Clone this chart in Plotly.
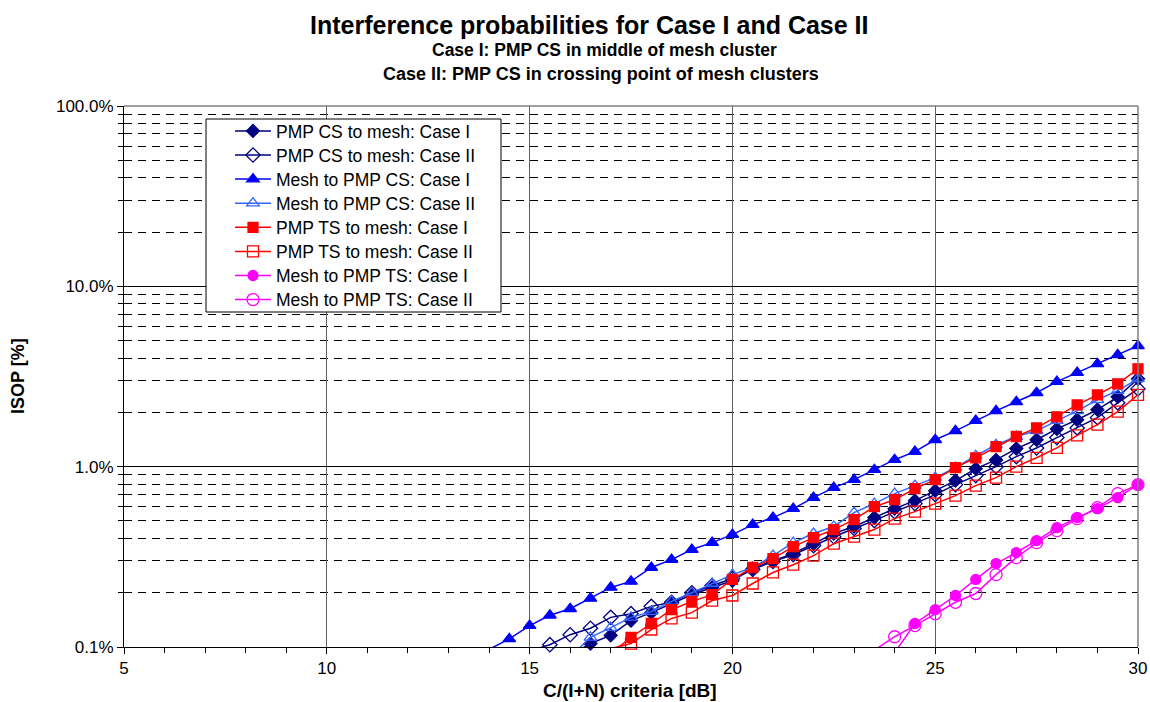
import plotly.graph_objects as go

# C/(I+N) criteria [dB]
X = [14.0, 14.5, 15.0, 15.5, 16.0, 16.5, 17.0, 17.5, 18.0, 18.5, 19.0, 19.5,
     20.0, 20.5, 21.0, 21.5, 22.0, 22.5, 23.0, 23.5, 24.0, 24.5, 25.0, 25.5,
     26.0, 26.5, 27.0, 27.5, 28.0, 28.5, 29.0, 29.5, 30.0]

# ISOP [%] per series (None = no data)
pmp_cs_to_mesh_I = [None, None, None, None, 0.090, 0.1045, 0.116, 0.140, 0.155, 0.174, 0.195, 0.214,
                    0.233, 0.272, 0.301, 0.330, 0.374, 0.426, 0.466, 0.522, 0.585, 0.648, 0.736, 0.837,
                    0.975, 1.09, 1.26, 1.41, 1.62, 1.82, 2.07, 2.44, 3.07]
pmp_cs_to_mesh_II = [None, None, 0.095, 0.103, 0.117, 0.127, 0.146, 0.153, 0.168, 0.177, 0.200, 0.219,
                     0.240, 0.269, 0.298, 0.325, 0.365, 0.409, 0.454, 0.502, 0.563, 0.624, 0.700, 0.795,
                     0.892, 1.00, 1.136, 1.27, 1.45, 1.64, 1.87, 2.26, 2.70]
mesh_to_pmp_cs_I = [0.097, 0.111, 0.1315, 0.150, 0.163, 0.186, 0.214, 0.231, 0.276, 0.305, 0.347, 0.379,
                    0.420, 0.477, 0.522, 0.585, 0.673, 0.765, 0.847, 0.962, 1.093, 1.211, 1.41, 1.58,
                    1.80, 2.04, 2.29, 2.57, 2.96, 3.32, 3.72, 4.17, 4.68]
mesh_to_pmp_cs_II = [None, None, None, None, 0.088, 0.113, 0.128, 0.146, 0.157, 0.179, 0.200, 0.225,
                     0.252, 0.276, 0.321, 0.379, 0.426, 0.466, 0.556, 0.624, 0.709, 0.785, 0.869, 0.987,
                     1.15, 1.32, 1.47, 1.58, 1.80, 2.04, 2.35, 2.64, 3.07]
pmp_ts_to_mesh_I = [None, None, None, None, None, None, 0.092, 0.113, 0.135, 0.161, 0.179, 0.195,
                    0.237, 0.276, 0.309, 0.360, 0.404, 0.448, 0.508, 0.600, 0.656, 0.755, 0.847, 0.987,
                    1.12, 1.29, 1.47, 1.64, 1.89, 2.20, 2.50, 2.88, 3.49]
pmp_ts_to_mesh_II = [None, None, None, None, None, 0.090, 0.098, 0.1045, 0.125, 0.144, 0.155, 0.181,
                     0.193, 0.225, 0.259, 0.286, 0.321, 0.374, 0.409, 0.448, 0.515, 0.563, 0.624, 0.691,
                     0.785, 0.869, 1.00, 1.12, 1.27, 1.49, 1.71, 2.02, 2.50]
mesh_to_pmp_ts_I = [None] * 20 + [0.093, 0.135, 0.161, 0.193, 0.237, 0.290, 0.334, 0.389, 0.459, 0.522,
                                  0.585, 0.673, 0.795]
mesh_to_pmp_ts_II = [None] * 19 + [0.096, 0.114, 0.1315, 0.153, 0.177, 0.198, 0.252, 0.313, 0.379, 0.442,
                                   0.515, 0.593, 0.709, 0.795]

series_names = ["PMP CS to mesh: Case I", "PMP CS to mesh: Case II",
                "Mesh to PMP CS: Case I", "Mesh to PMP CS: Case II",
                "PMP TS to mesh: Case I", "PMP TS to mesh: Case II",
                "Mesh to PMP TS: Case I", "Mesh to PMP TS: Case II"]
series_values = [pmp_cs_to_mesh_I, pmp_cs_to_mesh_II, mesh_to_pmp_cs_I, mesh_to_pmp_cs_II,
                 pmp_ts_to_mesh_I, pmp_ts_to_mesh_II, mesh_to_pmp_ts_I, mesh_to_pmp_ts_II]

x_ticks = [5, 10, 15, 20, 25, 30]
y_ticks = [0.1, 1, 10, 100]
y_tick_text = ["0.1%", "1.0%", "10.0%", "100.0%"]
y_minor = [m * d for d in (0.1, 1, 10) for m in range(2, 10)]

styles = [
    dict(color="#000080", symbol="diamond", size=10),
    dict(color="#000080", symbol="diamond-open", size=11),
    dict(color="#0000FF", symbol="triangle-up", size=11),
    dict(color="#3366FF", symbol="triangle-up-open", size=11),
    dict(color="#FF0000", symbol="square", size=10),
    dict(color="#FF0000", symbol="square-open", size=11),
    dict(color="#FF00FF", symbol="circle", size=10),
    dict(color="#FF00FF", symbol="circle-open", size=12),
]

YMIN = 0.1
FONT = "Liberation Sans, Arial, sans-serif"

L, R, T, B = 124, 12, 106, 55
W, H = 1150, 702
pw, ph = W - L - R, H - T - B


def px_x(p):
    return (p - L) / pw


def px_y(p):
    return (H - B - p) / ph


fig = go.Figure()
legend_layouts = {}
for i, (name, vals, st) in enumerate(zip(series_names, series_values, styles)):
    lg = "legend" if i == 0 else f"legend{i + 1}"
    mk = dict(color=st["color"], symbol=st["symbol"], size=st["size"],
              line=dict(color=st["color"], width=1.3))
    ln = dict(color=st["color"], width=1.5)
    # legend entry
    fig.add_trace(go.Scatter(x=[None], y=[None], mode="lines+markers", name=name,
                             legend=lg, line=ln, marker=mk))
    # line through all points (clipped to plot area)
    fig.add_trace(go.Scatter(x=X, y=vals, mode="lines", line=ln, showlegend=False,
                             hoverinfo="skip"))
    # markers only for points inside the axis range
    vis = [v if (v is not None and v >= YMIN) else None for v in vals]
    fig.add_trace(go.Scatter(x=X, y=vis, mode="markers", marker=mk, showlegend=False,
                             cliponaxis=False))
    legend_layouts[lg] = dict(x=px_x(230), y=px_y(131 + 24.1 * i), xanchor="left",
                              yanchor="middle", bgcolor="rgba(0,0,0,0)", borderwidth=0,
                              font=dict(family=FONT, size=17.5, color="black"),
                              itemwidth=36)

fig.update_layout(
    width=W, height=H,
    margin=dict(l=L, r=R, t=T, b=B, autoexpand=False),
    paper_bgcolor="white", plot_bgcolor="white",
    font=dict(family=FONT, size=17, color="black"),
    showlegend=True,
    xaxis=dict(range=[5, 30], tickvals=x_ticks, ticks="outside", ticklen=6,
               tickcolor="black", showline=True, linecolor="black", linewidth=1,
               showgrid=True, gridcolor="#606060", gridwidth=1, zeroline=False,
               automargin=False, tickfont=dict(size=17),
               minor=dict(dtick=1, ticks="outside", ticklen=5, tickcolor="black",
                          showgrid=False)),
    yaxis=dict(type="log", range=[-1, 2], tickvals=y_ticks, ticktext=y_tick_text,
               ticks="outside", ticklen=6, tickcolor="black", showline=True,
               linecolor="black", linewidth=1, showgrid=True, gridcolor="black",
               gridwidth=1, zeroline=False, automargin=False, tickfont=dict(size=17),
               minor=dict(tickvals=y_minor, ticks="outside", ticklen=5,
                          tickcolor="black", showgrid=True, gridcolor="black",
                          griddash="8px,6px", gridwidth=1)),
    shapes=[
        # plot area border (top and right, gray)
        dict(type="line", xref="paper", yref="paper", x0=0, x1=1, y0=1, y1=1,
             line=dict(color="#808080", width=1.5), layer="above"),
        dict(type="line", xref="paper", yref="paper", x0=1, x1=1, y0=0, y1=1,
             line=dict(color="#808080", width=1.5), layer="above"),
        # legend box
        dict(type="rect", xref="paper", yref="paper",
             x0=px_x(206), x1=px_x(501), y0=px_y(312), y1=px_y(119),
             fillcolor="white", line=dict(color="black", width=1), layer="above"),
    ],
    annotations=[
        dict(text="<b>Interference probabilities for Case I and Case II</b>",
             xref="paper", yref="paper", x=px_x(589), y=px_y(25),
             xanchor="center", yanchor="middle", showarrow=False,
             font=dict(size=25)),
        dict(text="<b>Case I: PMP CS in middle of mesh cluster</b>",
             xref="paper", yref="paper", x=px_x(604), y=px_y(50),
             xanchor="center", yanchor="middle", showarrow=False,
             font=dict(size=17.5)),
        dict(text="<b>Case II: PMP CS in crossing point of mesh clusters</b>",
             xref="paper", yref="paper", x=px_x(601), y=px_y(74),
             xanchor="center", yanchor="middle", showarrow=False,
             font=dict(size=18)),
        dict(text="<b>C/(I+N) criteria [dB]</b>", xref="paper", yref="paper",
             x=px_x(630), y=px_y(690), xanchor="center", yanchor="middle",
             showarrow=False, font=dict(size=19)),
        dict(text="<b>ISOP [%]</b>", xref="paper", yref="paper",
             x=px_x(18), y=px_y(376), xanchor="center", yanchor="middle",
             textangle=-90, showarrow=False, font=dict(size=18)),
    ],
    **legend_layouts,
)

fig.write_html("out.html")
